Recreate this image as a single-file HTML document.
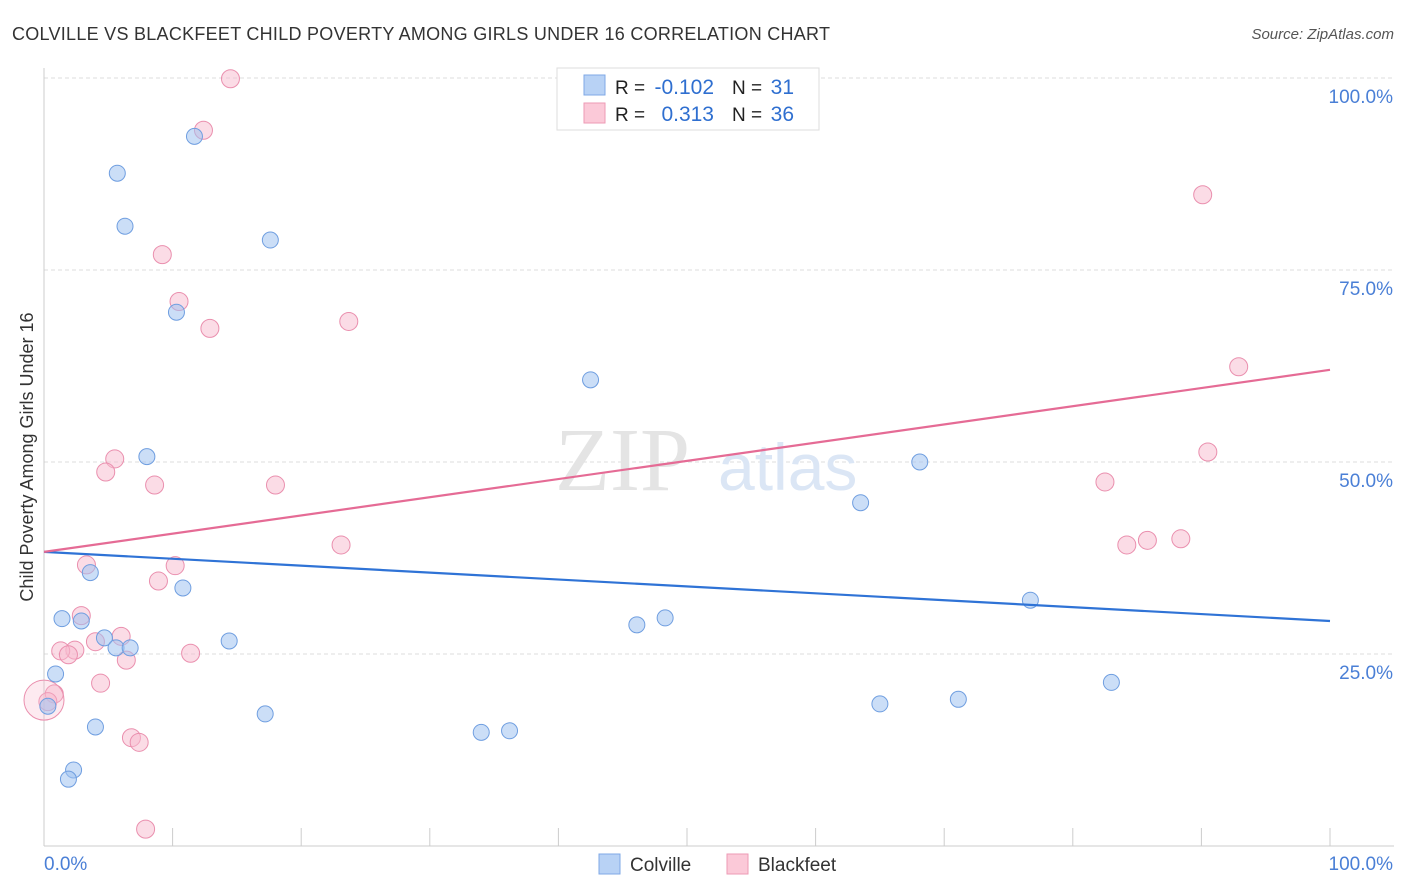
<!DOCTYPE html>
<html><head><meta charset="utf-8"><style>
body{margin:0;background:#fff;font-family:"Liberation Sans",sans-serif}
svg{display:block}
</style></head><body>
<svg id="c" width="1406" height="892"></svg>
<script>
const blueX=[5.7,6.3,11.7,17.6,10.3,8.0,42.5,68.1,63.5,3.6,10.8,1.4,2.9,4.7,5.6,6.7,14.4,76.7,46.1,48.3,0.9,0.3,83.0,65.0,71.1,17.2,4.0,34.0,36.2,2.3,1.9];
const blueY=[87.6,80.7,92.4,78.9,69.5,50.7,60.7,50.0,44.7,35.6,33.6,29.6,29.3,27.1,25.8,25.8,26.7,32.0,28.8,29.7,22.4,18.2,21.3,18.5,19.1,17.2,15.5,14.8,15.0,9.9,8.7];
const pinkX=[14.5,12.4,90.1,9.2,10.5,12.9,23.7,92.9,5.5,4.8,8.6,18.0,90.5,82.5,23.1,84.2,85.8,88.4,3.3,10.2,8.9,2.9,6.0,4.0,2.4,1.3,1.9,6.4,11.4,4.4,0.8,0.3,6.8,7.4,7.9,0.0];
const pinkY=[99.9,93.2,84.8,77.0,70.9,67.4,68.3,62.4,50.4,48.7,47.0,47.0,51.3,47.4,39.2,39.2,39.8,40.0,36.6,36.5,34.5,30.0,27.3,26.6,25.5,25.4,24.9,24.2,25.1,21.2,19.8,18.8,14.1,13.5,2.2,19.0];
const pinkR=[9,9,9,9,9,9,9,9,9,9,9,9,9,9,9,9,9,9,9,9,9,9,9,9,9,9,9,9,9,9,9,9,9,9,9,20];
const blueLine=[38.3,29.3];
const pinkLine=[38.3,62.0];
const yTicks=[25,50,75,100];
const yTickLabels=["25.0%","50.0%","75.0%","100.0%"];
const NS="http://www.w3.org/2000/svg";
const svg=document.getElementById('c');
const X=v=>44+v*12.86, Y=v=>846-v*7.68;
function el(t,a,txt){const e=document.createElementNS(NS,t);for(const k in a)e.setAttribute(k,a[k]);if(txt!=null)e.textContent=txt;svg.appendChild(e);return e;}
let e;
e=el('text',{x:12,y:40,'font-size':18,fill:'#333',textLength:818},'COLVILLE VS BLACKFEET CHILD POVERTY AMONG GIRLS UNDER 16 CORRELATION CHART');

e=el('text',{x:1394,y:39,'font-size':15,fill:'#555','font-style':'italic','text-anchor':'end'},'Source: ZipAtlas.com');

yTicks.forEach((t,i)=>{
  e=el('line',{x1:44,x2:1394,y1:Y(t),y2:Y(t),stroke:'#ddd','stroke-dasharray':'4,3'});
  
  e=el('text',{x:1393,y:Y(t)+25,'font-size':19,fill:'#4a7fd6','text-anchor':'end'},yTickLabels[i]);
  
});
e=el('line',{x1:44,x2:44,y1:68,y2:846,stroke:'#ccc'});
e=el('line',{x1:44,x2:1394,y1:846,y2:846,stroke:'#ccc'});
for(let i=0;i<=10;i++){e=el('line',{x1:X(i*10),x2:X(i*10),y1:828,y2:846,stroke:'#ccc'});}
e=el('text',{x:44,y:870,'font-size':19,fill:'#4a7fd6'},'0.0%');
e=el('text',{x:1393,y:870,'font-size':19,fill:'#4a7fd6','text-anchor':'end'},'100.0%');
e=el('text',{x:33,y:457,'font-size':18,fill:'#333','text-anchor':'middle',transform:'rotate(-90 33 457)'},'Child Poverty Among Girls Under 16');

e=el('text',{x:555,y:490,'font-size':90,fill:'#e4e4e4','font-family':'Liberation Serif'},'ZIP');
e=el('text',{x:718,y:490,'font-size':66,fill:'#dbe6f5'},'atlas');
pinkX.forEach((v,i)=>{e=el('circle',{cx:X(v),cy:Y(pinkY[i]),r:pinkR[i],fill:pinkR[i]>12?'rgba(248,185,205,0.3)':'rgba(248,185,205,0.5)',stroke:'#ea8fae','stroke-width':1});
});
blueX.forEach((v,i)=>{e=el('circle',{cx:X(v),cy:Y(blueY[i]),r:8,fill:'rgba(160,195,240,0.55)',stroke:'#6f9ee0','stroke-width':1});
});
e=el('line',{x1:X(0),y1:Y(blueLine[0]),x2:X(100),y2:Y(blueLine[1]),stroke:'#2f73d6','stroke-width':2.2});
e=el('line',{x1:X(0),y1:Y(pinkLine[0]),x2:X(100),y2:Y(pinkLine[1]),stroke:'#e56b95','stroke-width':2.2});
e=el('rect',{x:557,y:68,width:262,height:62,fill:'#fff',stroke:'#ddd'});
e=el('rect',{x:584,y:75,width:21,height:20,fill:'#b8d2f5',stroke:'#7fa8e6'});
e=el('rect',{x:584,y:103,width:21,height:20,fill:'#fbc9d8',stroke:'#ee9ab5'});
[[94,'-0.102','31'],[121,'0.313','36']].forEach((r,i)=>{
 e=el('text',{x:615,y:r[0],'font-size':19,fill:'#222'},'R =');
 e=el('text',{x:714,y:r[0],'font-size':21,fill:'#2f6fd0','text-anchor':'end'},r[1]);
 e=el('text',{x:732,y:r[0],'font-size':19,fill:'#222'},'N =');
 e=el('text',{x:794,y:r[0],'font-size':21,fill:'#2f6fd0','text-anchor':'end'},r[2]);
});
e=el('rect',{x:599,y:854,width:21,height:20,fill:'#b8d2f5',stroke:'#7fa8e6'});
e=el('text',{x:630,y:871,'font-size':19,fill:'#333'},'Colville');
e=el('rect',{x:727,y:854,width:21,height:20,fill:'#fbc9d8',stroke:'#ee9ab5'});
e=el('text',{x:758,y:871,'font-size':19,fill:'#333'},'Blackfeet');
</script>
</body></html>
